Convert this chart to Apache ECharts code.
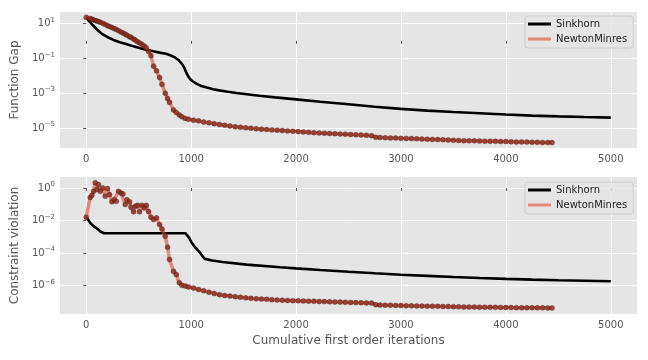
<!DOCTYPE html>
<html><head><meta charset="utf-8">
<script src="https://cdn.jsdelivr.net/npm/echarts@6/dist/echarts.min.js"></script>
<style>html,body{margin:0;padding:0;background:#fff}#c{width:648px;height:360px}</style>
</head><body><div id="c"></div>
<script>
// ---- data ----
const xTicks = [0, 1000, 2000, 3000, 4000, 5000];
const gapTicks = [1e-5, 1e-3, 1e-1, 1e1];
const violationTicks = [1e-6, 1e-4, 1e-2, 1e0];

const newtonIters = [0,38,54,70,86,102,117,133,159,181,203,222,245,267,286,308,331,350,372,388,413,426,451,467,489,508,531,553,572,594,617,642,670,699,722,753,775,794,832,858,887,912,944,975,1023,1071,
 1120,1170,1220,1270,1320,1370,1420,1470,1520,1570,1620,1670,1720,1770,1820,1870,1920,1970,2020,2070,2120,2170,2220,2270,2320,2370,2420,2470,2520,2570,2620,2670,2720,2760,2800,2850,2900,2950,3000,3050,3100,3150,3200,3250,3300,3350,3400,3450,3500,3550,3600,3650,3700,3750,3800,3850,3900,3950,4000,4050,4100,4150,4200,4250,4300,4350,4400,4440];

const newtonGap = [22,19,17.4,15.8,14.5,13.5,12.6,11.7,10,8.7,7.4,6.6,5.8,5.0,4.5,3.8,3.2,2.8,2.4,2.1,1.7,1.6,1.26,1.1,0.89,0.76,0.63,0.50,0.40,0.25,0.14,0.035,0.019,0.0079,0.0032,1.0e-3,5.0e-4,3.0e-4,1.1e-4,7.9e-5,5.6e-5,4.5e-5,3.6e-5,3.2e-5,2.8e-5,2.6e-5,
 2.2e-5,2.0e-5,1.8e-5,1.6e-5,1.45e-5,1.32e-5,1.2e-5,1.12e-5,1.05e-5,9.8e-6,9.1e-6,8.7e-6,8.3e-6,7.9e-6,7.6e-6,7.2e-6,6.9e-6,6.6e-6,6.3e-6,6.0e-6,5.75e-6,5.5e-6,5.25e-6,5.1e-6,4.9e-6,4.8e-6,4.6e-6,4.5e-6,4.3e-6,4.2e-6,4.0e-6,3.9e-6,3.7e-6,2.95e-6,2.9e-6,2.8e-6,2.75e-6,2.7e-6,2.6e-6,2.57e-6,2.5e-6,2.45e-6,2.35e-6,2.3e-6,2.24e-6,2.19e-6,2.14e-6,2.09e-6,2.0e-6,1.95e-6,1.9e-6,1.88e-6,1.86e-6,1.82e-6,1.78e-6,1.76e-6,1.74e-6,1.7e-6,1.69e-6,1.66e-6,1.62e-6,1.61e-6,1.58e-6,1.55e-6,1.54e-6,1.51e-6,1.5e-6,1.48e-6];

const newtonViolation = [0.016,0.26,0.35,0.62,2.1,0.79,1.6,0.62,1.0,0.31,0.91,0.39,0.14,0.19,0.15,0.62,0.49,0.43,0.095,0.19,0.14,0.065,0.034,0.074,0.085,0.034,0.085,0.059,0.085,0.036,0.016,0.0115,0.0145,0.0056,0.003,0.00107,2.3e-4,4.0e-5,7.6e-6,4.8e-6,1.5e-6,1.05e-6,9.5e-7,8.3e-7,7.1e-7,5.8e-7,
 4.8e-7,4.0e-7,3.3e-7,2.8e-7,2.5e-7,2.3e-7,2.1e-7,1.95e-7,1.78e-7,1.66e-7,1.58e-7,1.51e-7,1.45e-7,1.38e-7,1.32e-7,1.26e-7,1.23e-7,1.2e-7,1.17e-7,1.15e-7,1.12e-7,1.1e-7,1.07e-7,1.05e-7,1.02e-7,1.0e-7,9.8e-8,9.5e-8,9.3e-8,9.1e-8,8.9e-8,8.7e-8,8.5e-8,6.8e-8,6.5e-8,6.3e-8,6.2e-8,6.1e-8,6.0e-8,5.9e-8,5.75e-8,5.7e-8,5.6e-8,5.5e-8,5.45e-8,5.4e-8,5.25e-8,5.2e-8,5.1e-8,5.0e-8,4.95e-8,4.9e-8,4.85e-8,4.8e-8,4.75e-8,4.7e-8,4.65e-8,4.6e-8,4.55e-8,4.5e-8,4.47e-8,4.44e-8,4.42e-8,4.38e-8,4.35e-8,4.33e-8,4.3e-8,4.27e-8];

const sinkhornGapIters = [0,20,50,100,150,200,260,320,388,450,515,580,640,700,760,800,840,880,910,935,960,985,1010,1050,1090,1150,1210,1280,1350,1430,1530,1650,1800,2000,2230,2500,2750,3000,3250,3500,3750,4000,4250,4500,4750,5000];
const sinkhornGap = [22,15,9.5,4.6,2.5,1.66,1.12,0.83,0.63,0.48,0.37,0.30,0.25,0.21,0.18,0.15,0.117,0.079,0.050,0.028,0.0126,0.0071,0.0050,0.0035,0.0027,0.0021,0.0017,0.0014,0.0012,0.00102,8.7e-4,7.2e-4,5.75e-4,4.4e-4,3.2e-4,2.3e-4,1.66e-4,1.26e-4,1.0e-4,8.3e-5,7.1e-5,6.0e-5,5.2e-5,4.7e-5,4.3e-5,4.0e-5];

const sinkhornViolationIters = [0,20,38,55,70,85,102,117,135,150,170,400,700,944,960,980,1000,1020,1040,1060,1087,1110,1130,1200,1300,1530,1850,2000,2230,2500,2750,3000,3250,3500,3750,4000,4250,4500,4750,5000];
const sinkhornViolation = [0.016,0.011,0.0071,0.0056,0.0045,0.0040,0.0032,0.0028,0.0021,0.00174,0.00166,0.00166,0.00166,0.00166,0.0014,8.9e-4,5.0e-4,3.2e-4,2.2e-4,1.6e-4,1.0e-4,6.3e-5,4.4e-5,3.5e-5,2.8e-5,1.95e-5,1.35e-5,1.15e-5,9.1e-6,7.1e-6,5.75e-6,4.7e-6,4.0e-6,3.4e-6,2.95e-6,2.6e-6,2.35e-6,2.15e-6,2.0e-6,1.86e-6];

// ---- build ----
const lg = Math.log10;
const pairs = (xs, ys) => xs.map((x, i) => [x, lg(ys[i])]);
const FONT = 'DejaVu Sans';
const SINK = '#000000';
const NEWTON_LINE = 'rgba(226,74,51,0.6)';
const NEWTON_DOT = '#8a2b1f';

function fmtPow(v) {
  const e = Math.round(v);
  const s = e < 0 ? '\u2212' + (-e) : '' + e;
  return '{b|10}{s|' + s + '}';
}

function xAxis(gi, name) {
  return {
    type: 'value', gridIndex: gi, min: -250, max: 5250,
    axisLine: { show: false },
    axisTick: { show: true, length: 3, lineStyle: { color: '#555' }, customValues: xTicks },
    axisLabel: { customValues: xTicks, formatter: v => String(v), color: '#555', fontSize: 10, margin: 6, fontFamily: FONT },
    splitLine: { show: true, lineStyle: { color: '#ffffff', width: 1 } },
    name: name || '', nameLocation: 'middle', nameGap: 21,
    nameTextStyle: { color: '#555', fontSize: 12, fontFamily: FONT }
  };
}
function yAxis(gi, min, max, ticks, name) {
  const t = ticks.map(lg);
  return {
    type: 'value', gridIndex: gi, min: min, max: max,
    axisLine: { show: false },
    axisTick: { show: true, length: 3, lineStyle: { color: '#555' }, customValues: t },
    axisLabel: {
      customValues: t, formatter: fmtPow, margin: 5,
      rich: {
        b: { fontSize: 10, color: '#555', fontFamily: FONT, lineHeight: 14 },
        s: { fontSize: 7, color: '#555', fontFamily: FONT, lineHeight: 8, verticalAlign: 'top' }
      }
    },
    splitLine: { show: true, lineStyle: { color: '#ffffff', width: 1 } },
    name: name, nameLocation: 'middle', nameGap: 34, nameRotate: 90,
    nameTextStyle: { color: '#555', fontSize: 12, fontFamily: FONT }
  };
}
function legend(top) {
  return {
    left: 525, top: top, orient: 'vertical', icon: 'rect',
    itemWidth: 23, itemHeight: 3, itemGap: 3, padding: [2, 6, 3, 3],
    backgroundColor: 'rgba(229,229,229,0.8)', borderColor: '#cccccc', borderWidth: 1, borderRadius: 3,
    textStyle: { fontSize: 10, color: '#222', lineHeight: 12, fontFamily: FONT },
    data: ['Sinkhorn', 'NewtonMinres']
  };
}
function seriesFor(idx, sx, sy, ny) {
  return [
    { name: 'Sinkhorn', type: 'line', xAxisIndex: idx, yAxisIndex: idx, data: pairs(sx, sy),
      showSymbol: false, lineStyle: { color: SINK, width: 2.6 }, itemStyle: { color: SINK }, z: 2 },
    { name: 'NewtonMinres', type: 'line', xAxisIndex: idx, yAxisIndex: idx, data: pairs(newtonIters, ny),
      showSymbol: false, lineStyle: { color: NEWTON_LINE, width: 3.5 }, itemStyle: { color: NEWTON_LINE }, z: 3 },
    { name: 'NewtonMinres iterates', type: 'scatter', xAxisIndex: idx, yAxisIndex: idx, data: pairs(newtonIters, ny),
      symbolSize: 5, itemStyle: { color: NEWTON_DOT, borderColor: '#3a1510', borderWidth: 0.4 }, z: 4 }
  ];
}

const chart = echarts.init(document.getElementById('c'), null, { renderer: 'canvas' });
chart.setOption({
  animation: false,
  backgroundColor: '#ffffff',
  textStyle: { fontFamily: FONT },
  grid: [
    { left: 60, top: 12, width: 577, height: 136, show: true, backgroundColor: '#E5E5E5', borderWidth: 0 },
    { left: 60, top: 177, width: 577, height: 137, show: true, backgroundColor: '#E5E5E5', borderWidth: 0 }
  ],
  xAxis: [xAxis(0), xAxis(1, 'Cumulative first order iterations')],
  yAxis: [yAxis(0, -6.14, 1.65, gapTicks, 'Function Gap'), yAxis(1, -7.74, 0.67, violationTicks, 'Constraint violation')],
  legend: [legend(16), legend(182)],
  series: [].concat(seriesFor(0, sinkhornGapIters, sinkhornGap, newtonGap),
                    seriesFor(1, sinkhornViolationIters, sinkhornViolation, newtonViolation))
});
</script></body></html>
